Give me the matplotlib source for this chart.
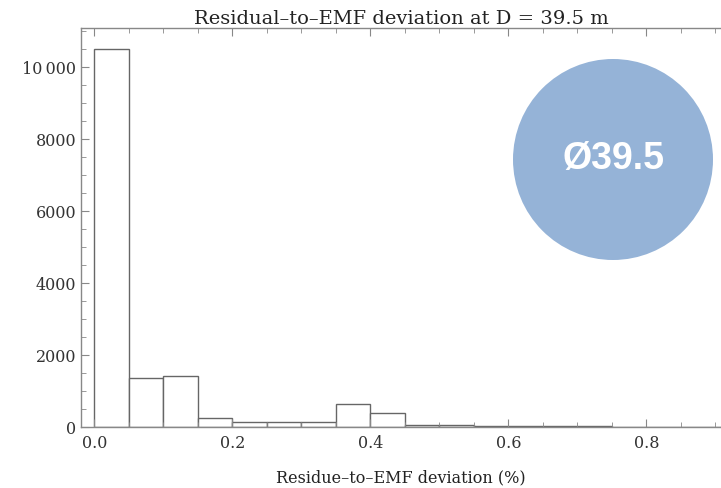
import matplotlib.pyplot as plt
import matplotlib.ticker as mticker
from matplotlib.patches import Ellipse

# histogram data (bin width 0.05 %)
bin_width = 0.05
bin_left = [0.00, 0.05, 0.10, 0.15, 0.20, 0.25, 0.30, 0.35, 0.40, 0.45,
            0.50, 0.55, 0.60, 0.65, 0.70, 0.75, 0.80, 0.85, 0.90]
counts = [10500, 1370, 1425, 260, 130, 130, 130, 630, 380, 65,
          60, 20, 18, 16, 14, 12, 10, 9, 8]

x_ticks = [0.0, 0.2, 0.4, 0.6, 0.8]
y_ticks = [0, 2000, 4000, 6000, 8000, 10000]
y_labels = ["0", "2000", "4000", "6000", "8000", "10\u2009000"]

title = "Residual\u2013to\u2013EMF deviation at D = 39.5 m"
xlabel = "Residue\u2013to\u2013EMF deviation (%)"
badge = "\u00d839.5"

fig = plt.figure(figsize=(7.21, 4.88), dpi=100)
ax = fig.add_axes([0.1123, 0.125, 0.8877, 0.817])

ax.bar(bin_left, counts, width=bin_width, align='edge',
       facecolor='white', edgecolor='#666666', linewidth=1.0)

ax.set_xlim(-0.0193, 0.908)
ax.set_ylim(0, 11075)

ax.set_xticks(x_ticks)
ax.set_xticklabels(["%.1f" % v for v in x_ticks])
ax.xaxis.set_minor_locator(mticker.MultipleLocator(0.05))
ax.set_yticks(y_ticks)
ax.set_yticklabels(y_labels)
ax.yaxis.set_minor_locator(mticker.MultipleLocator(500))

ax.tick_params(which='both', direction='in', color='#888888',
               top=True, right=False, labelsize=11.5, labelcolor='#333333',
               labelfontfamily='DejaVu Serif')
ax.tick_params(which='major', length=6)
ax.tick_params(which='minor', length=3.5)
ax.tick_params(axis='x', pad=6)

for side in ['left', 'bottom', 'top']:
    ax.spines[side].set_color('#888888')
    ax.spines[side].set_linewidth(1.0)
ax.spines['right'].set_visible(False)

ax.set_title(title, fontsize=14, family='DejaVu Serif', color='#222222', pad=3)
ax.set_xlabel(xlabel, fontsize=11.5, family='DejaVu Serif', color='#222222', labelpad=12)

# badge circle in figure pixels
fw, fh = 721, 488
circ = Ellipse((613 / fw, 1 - 159.5 / fh), 200 / fw, 201 / fh,
               transform=fig.transFigure, facecolor='#95b3d7', edgecolor='none')
fig.patches.append(circ)
fig.text(613 / fw, 1 - 159.5 / fh, badge, ha='center', va='center',
         fontsize=27, fontweight='bold', family='Liberation Sans', color='white')

fig.savefig('out.png', dpi=100)
